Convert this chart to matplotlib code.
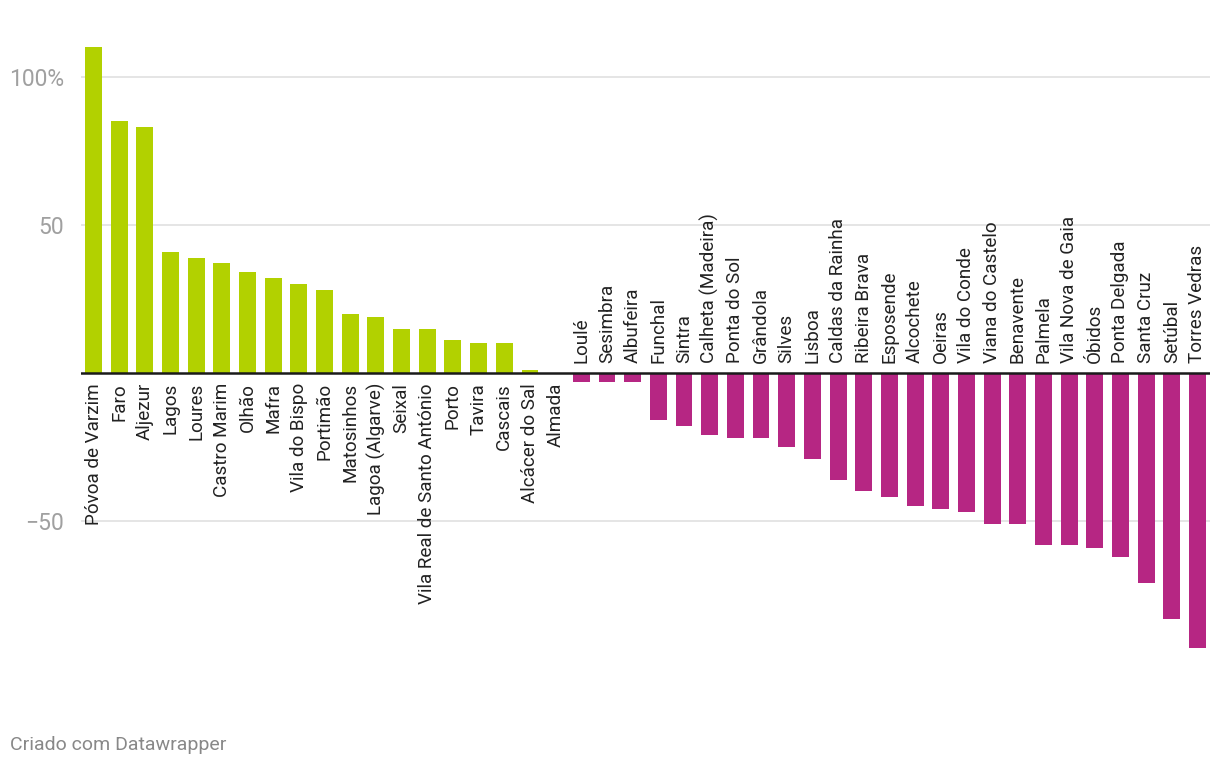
import matplotlib.pyplot as plt
import numpy as np

plt.rcParams['font.family'] = ['Roboto', 'DejaVu Sans']

# Dados
concelhos = ["Póvoa de Varzim", "Faro", "Aljezur", "Lagos", "Loures", "Castro Marim",
             "Olhão", "Mafra", "Vila do Bispo", "Portimão", "Matosinhos", "Lagoa (Algarve)",
             "Seixal", "Vila Real de Santo António", "Porto", "Tavira", "Cascais",
             "Alcácer do Sal", "Almada", "Loulé", "Sesimbra", "Albufeira", "Funchal",
             "Sintra", "Calheta (Madeira)", "Ponta do Sol", "Grândola", "Silves", "Lisboa",
             "Caldas da Rainha", "Ribeira Brava", "Esposende", "Alcochete", "Oeiras",
             "Vila do Conde", "Viana do Castelo", "Benavente", "Palmela", "Vila Nova de Gaia",
             "Óbidos", "Ponta Delgada", "Santa Cruz", "Setúbal", "Torres Vedras"]
variacao = [110, 85, 83, 41, 39, 37, 34, 32, 30, 28, 20, 19, 15, 15, 11, 10, 10, 1, 0,
            -3, -3, -3, -16, -18, -21, -22, -22, -25, -29, -36, -40, -42, -45, -46,
            -47, -51, -51, -58, -58, -59, -62, -71, -83, -93]
ticks_y = [100, 50, -50]
ticks_txt = ["100%", "50", "\u221250"]

verde = "#b2d100"
magenta = "#b62683"

fig = plt.figure(figsize=(12.2, 7.68), dpi=100)
ax = fig.add_axes([81/1220, 88/768, 1129/1220, 640/768])

x = np.arange(len(concelhos))
cores = [verde if v >= 0 else magenta for v in variacao]
ax.bar(x, variacao, width=0.66, color=cores, zorder=2)

ax.set_xlim(-0.49, len(concelhos) - 1 + 0.49)
ax.set_ylim(-103.7, 112.5)

# grelha
for t in ticks_y:
    ax.axhline(t, color="#e3e3e3", lw=1.3, zorder=1)
ax.axhline(0, color="#1a1a1a", lw=1.8, zorder=3)

ax.set_yticks(ticks_y)
ax.set_yticklabels(ticks_txt, fontsize=16.5, color="#a0a0a0")
ax.tick_params(axis="y", length=0, pad=12)
ax.set_xticks([])
for s in ax.spines.values():
    s.set_visible(False)

# rotulos das barras
off = 3.4
for i, (nome, v) in enumerate(zip(concelhos, variacao)):
    if v >= 0:
        ax.text(i, -off, nome, rotation=90, ha="center", va="top",
                fontsize=13.6, color="#222222")
    else:
        ax.text(i, off, nome, rotation=90, ha="center", va="bottom",
                fontsize=13.6, color="#222222")

fig.text(10/1220, 1 - 745/768, "Criado com Datawrapper", fontsize=14,
         color="#888888", va="center", ha="left")

fig.savefig("out.png", dpi=100, facecolor="white")
